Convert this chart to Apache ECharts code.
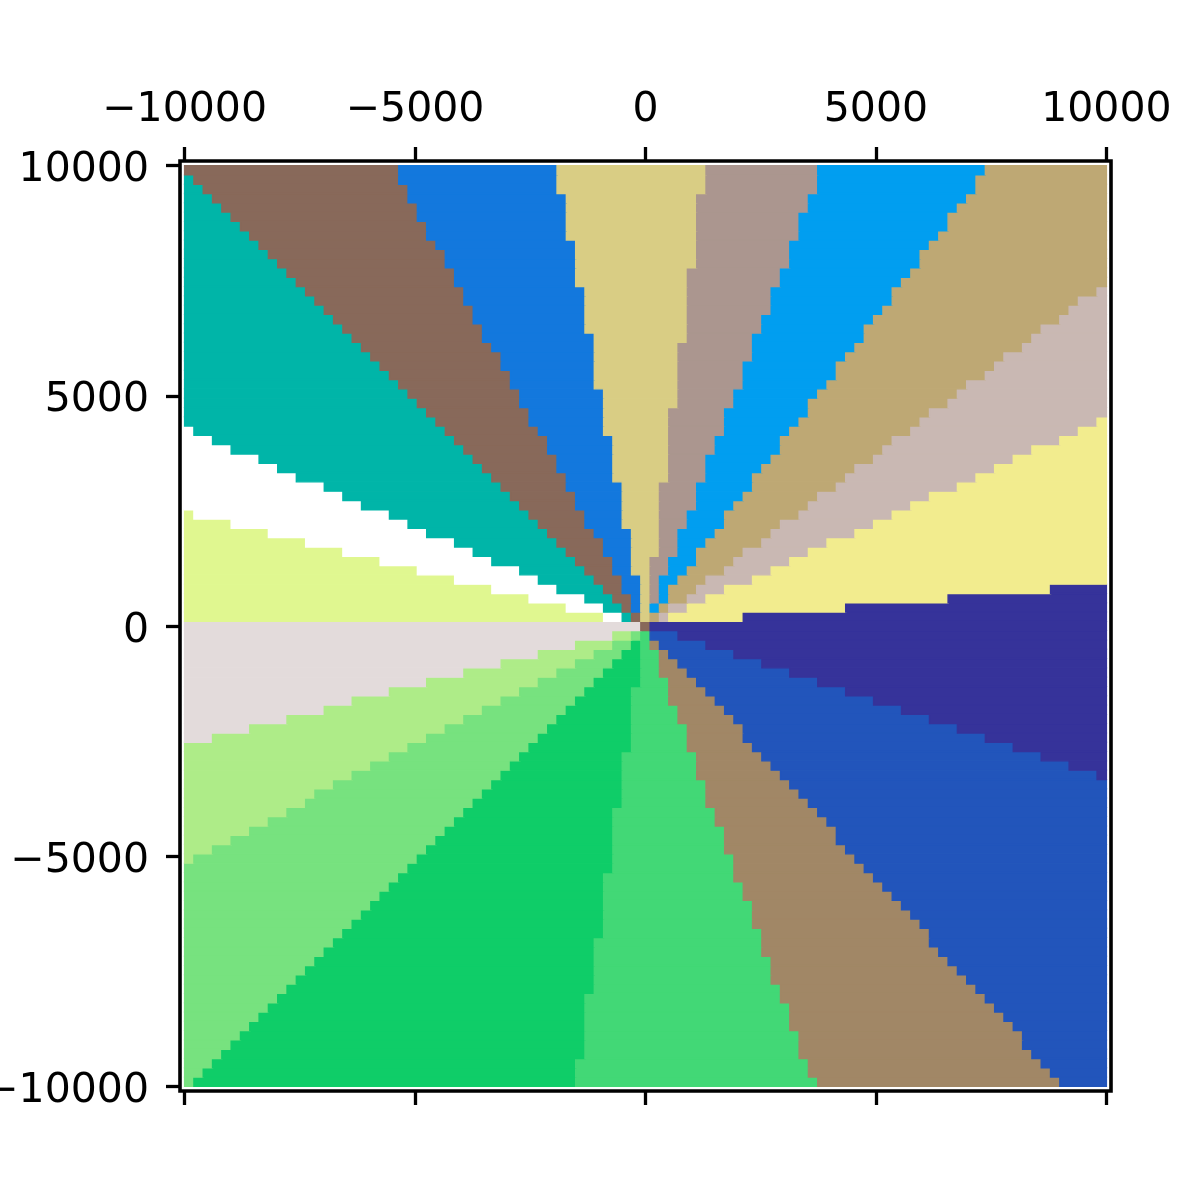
<!DOCTYPE html>
<html>
<head>
<meta charset="utf-8"/>
<title>sectors</title>
<script src="https://cdn.jsdelivr.net/npm/echarts@6/dist/echarts.min.js"></script>
<style>
  html, body { margin: 0; padding: 0; background: #fff; }
  #chart { width: 1200px; height: 1200px; }
</style>
</head>
<body>
<div id="chart"></div>
<script>
// grid of cells: 99 x 99, edges spread evenly from -10000 to 10000
var cellMin = -10000, cellMax = 10000, cellCount = 99;

// sector start angles (deg, counter-clockwise from +x)
var sectorStartDeg = [5.2, 24.4, 36.8, 53.2, 68.9, 82.6, 100.9, 118.8, 135.3, 156.7,
                      166.1, 179.5, 194.45, 207.2, 225.3, 261.4, 290.2, 312.3, 341.8];
var sectorColors = ['#f2ec8e', '#c9b8b3', '#bea874', '#019ef0', '#ab968f', '#d9cd84',
                    '#1378dd', '#88695a', '#00b5a8', '#ffffff', '#e0f790', '#e3dbdb',
                    '#aeec88', '#77e27f', '#0fcd68', '#42d876', '#a18766', '#2255bb', '#36339a'];
// the middle cell has no angle; it shows the brown sector
var centreSector = 7;

var tickValues = [-10000, -5000, 0, 5000, 10000];
var axisMin = -10100, axisMax = 10100;

function sectorOf(x, y) {
  if (x === 0 && y === 0) return centreSector;
  var a = Math.atan2(y, x) * 180 / Math.PI;
  if (a < 0) a += 360;
  var s = sectorStartDeg.length - 1;
  for (var i = 0; i < sectorStartDeg.length; i++) {
    if (a >= sectorStartDeg[i]) s = i;
  }
  if (a < sectorStartDeg[0]) s = sectorStartDeg.length - 1;
  return s;
}

// build rows, merging runs of same sector
var step = (cellMax - cellMin) / cellCount;
var cells = [];
for (var r = 0; r < cellCount; r++) {
  var y0 = cellMin + r * step, y1 = y0 + step;
  var yc = Math.abs(y0 + step / 2) < 1e-6 ? 0 : y0 + step / 2;
  var runStart = 0, runSec = null;
  for (var c = 0; c <= cellCount; c++) {
    var s = null;
    if (c < cellCount) {
      var xc = cellMin + (c + 0.5) * step;
      if (Math.abs(xc) < 1e-6) xc = 0;
      s = sectorOf(xc, yc);
    }
    if (s !== runSec) {
      if (runSec !== null) {
        cells.push([cellMin + runStart * step, cellMin + c * step, y0, y1, runSec]);
      }
      runStart = c;
      runSec = s;
    }
  }
}

function minusFmt(v) { return String(v).replace('-', '\u2212'); }
// left labels sit a few px lower in the original
function minusFmtLow(v) { return '{v|' + minusFmt(v) + '}'; }

var labelFont = { fontFamily: 'DejaVu Sans', fontSize: 41, color: '#000' };
var tickStyle = { show: true, inside: false, length: 14, lineStyle: { color: '#000', width: 3.3 } };
var noLine = { show: false, onZero: false };

var myChart = echarts.init(document.getElementById('chart'), null, { renderer: 'canvas' });
var option = {
  animation: false,
  backgroundColor: '#fff',
  grid: { left: 180, top: 161, width: 931, height: 930, containLabel: false, outerBoundsMode: 'none',
          show: true, borderColor: '#000', borderWidth: 3.6, backgroundColor: 'transparent' },
  xAxis: [
    { type: 'value', position: 'top', min: axisMin, max: axisMax,
      axisLine: noLine, splitLine: { show: false },
      axisTick: Object.assign({ customValues: tickValues }, tickStyle),
      axisLabel: Object.assign({ customValues: tickValues, margin: 30, formatter: minusFmt }, labelFont) },
    { type: 'value', position: 'bottom', min: axisMin, max: axisMax,
      axisLine: noLine, splitLine: { show: false },
      axisTick: Object.assign({ customValues: tickValues }, tickStyle),
      axisLabel: { show: false } }
  ],
  yAxis: [
    { type: 'value', position: 'left', min: axisMin, max: axisMax,
      axisLine: noLine, splitLine: { show: false },
      axisTick: Object.assign({ customValues: tickValues }, tickStyle),
      axisLabel: Object.assign({ customValues: tickValues, margin: 31, formatter: minusFmtLow,
        rich: { v: { fontFamily: 'DejaVu Sans', fontSize: 41, color: '#000', padding: [10, 0, 0, 0] } } }, labelFont) }
  ],
  series: [{
    type: 'custom',
    coordinateSystem: 'cartesian2d',
    xAxisIndex: 0,
    yAxisIndex: 0,
    data: cells,
    encode: { x: [0, 1], y: [2, 3] },
    renderItem: function (params, api) {
      var p0 = api.coord([api.value(0), api.value(3)]);
      var p1 = api.coord([api.value(1), api.value(2)]);
      var col = sectorColors[api.value(4)];
      return {
        type: 'rect',
        shape: { x: p0[0], y: p0[1], width: p1[0] - p0[0], height: p1[1] - p0[1] },
        style: { fill: col, stroke: col, lineWidth: 1.4 }
      };
    }
  }]
};
myChart.setOption(option);
</script>
</body>
</html>
